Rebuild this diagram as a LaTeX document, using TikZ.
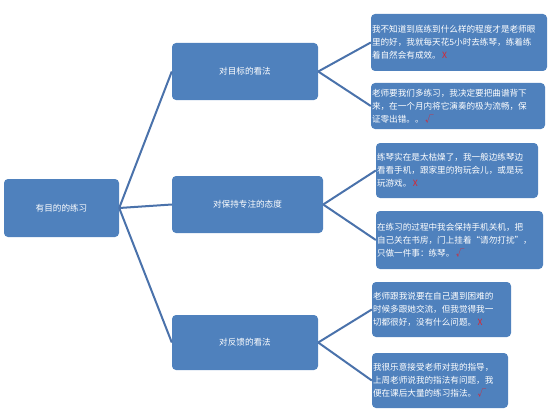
\documentclass[tikz,border=0pt]{standalone}
\usepackage{fontspec}
\newfontfamily\cjk{Noto Sans CJK SC}
\definecolor{boxblue}{HTML}{4F81BD}
\definecolor{linkblue}{HTML}{4A72AB}
\definecolor{markred}{HTML}{E0202A}
\tikzset{
  box/.style={fill=boxblue, draw=none, rounded corners=4pt, text=white,
    font=\cjk\fontsize{8.6}{13}\selectfont, inner sep=0pt, align=center},
  leaf/.style={box, align=left, inner xsep=1pt},
  link/.style={draw=linkblue, line width=2pt},
}
\newcommand{\wrongmark}{{\color{markred}\,X}}
\newcommand{\okmark}{{\color{markred}\,√}}
\begin{document}
\begin{tikzpicture}[x=1pt,y=-1pt]
\useasboundingbox (0,0) rectangle (557,420);
\node[box, minimum width=115pt, minimum height=58pt] (root) at (61.5,208) {有目的的练习};
\node[box, minimum width=146pt, minimum height=57pt] (m1) at (245,71.5) {对目标的看法};
\node[box, minimum width=151pt, minimum height=57pt] (m2) at (247.5,204.5) {对保持专注的态度};
\node[box, minimum width=146pt, minimum height=55pt] (m3) at (245,342.5) {对反馈的看法};
\node[leaf, minimum width=176pt, minimum height=57pt, text width=174pt] (l1) at (459,42.5)
  {我不知道到底练到什么样的程度才是老师眼\\里的好，我就每天花5小时去练琴，练着练\\着自然会有成效。\wrongmark};
\node[leaf, minimum width=174pt, minimum height=46pt, text width=172pt] (l2) at (458,106)
  {老师要我们多练习，我决定要把曲谱背下\\来，在一个月内将它演奏的极为流畅，保\\证零出错。。\okmark};
\node[leaf, minimum width=162pt, minimum height=55pt, text width=160pt] (l3) at (457,170.5)
  {练琴实在是太枯燥了，我一般边练琴边\\看看手机，跟家里的狗玩会儿，或是玩\\玩游戏。\wrongmark};
\node[leaf, minimum width=167pt, minimum height=58pt, text width=165pt] (l4) at (459.5,240)
  {在练习的过程中我会保持手机关机，把\\自己关在书房，门上挂着“请勿打扰”，\\只做一件事：练琴。\okmark};
\node[leaf, minimum width=139pt, minimum height=55pt, text width=137pt] (l5) at (441.5,309.5)
  {老师跟我说要在自己遇到困难的\\时候多跟她交流，但我觉得我一\\切都很好，没有什么问题。\wrongmark};
\node[leaf, minimum width=136pt, minimum height=55pt, text width=134pt] (l6) at (440,380.5)
  {我很乐意接受老师对我的指导，\\上周老师说我的指法有问题，我\\便在课后大量的练习指法。\okmark};
\draw[link] (root.east) -- (m1.west);
\draw[link] (root.east) -- (m2.west);
\draw[link] (root.east) -- (m3.west);
\draw[link] (m1.east) -- (l1.west);
\draw[link] (m1.east) -- (l2.west);
\draw[link] (m2.east) -- (l3.west);
\draw[link] (m2.east) -- (l4.west);
\draw[link] (m3.east) -- (l5.west);
\draw[link] (m3.east) -- (l6.west);
\end{tikzpicture}
\end{document}
